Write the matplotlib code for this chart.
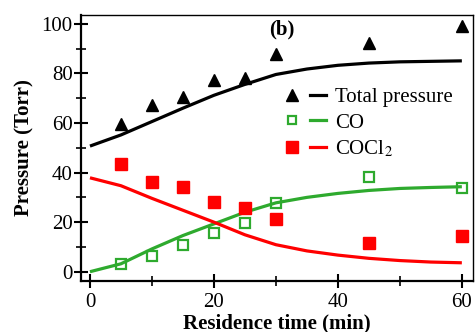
import numpy as np
import matplotlib.pyplot as plt
from matplotlib.lines import Line2D
from matplotlib.legend_handler import HandlerTuple

plt.rcParams['font.family'] = ['Liberation Serif', 'DejaVu Serif']
plt.rcParams['mathtext.fontset'] = 'stix'

# measured points
t_pts = [5, 10, 15, 20, 25, 30, 45, 60]
total_pts = [59.6, 67.3, 70.7, 77.4, 78.3, 87.8, 92.5, 99.2]
co_pts = [3.1, 6.5, 10.8, 15.8, 19.5, 27.9, 38.4, 33.9]
cocl2_pts = [43.5, 36.1, 34.3, 28.3, 25.8, 21.3, 11.5, 14.4]

# model curves
t_fit = [0, 5, 10, 15, 20, 25, 30, 35, 40, 45, 50, 55, 60]
total_fit = [50.7, 55.2, 60.6, 66.0, 71.2, 75.6, 79.6, 81.8, 83.3, 84.2, 84.7, 84.9, 85.1]
co_fit = [0.0, 3.2, 9.2, 14.6, 19.3, 24.0, 27.8, 30.0, 31.6, 32.8, 33.6, 34.0, 34.3]
cocl2_fit = [37.9, 34.7, 29.6, 24.8, 20.0, 14.9, 10.9, 8.4, 6.7, 5.4, 4.5, 3.9, 3.6]

green = '#2eaa2e'
red = '#ff0000'
fs = 15

fig = plt.figure(figsize=(4.75, 3.32), dpi=100)
ax = fig.add_axes([0.1705, 0.1536, 0.8253, 0.8012])

ax.plot(t_fit, total_fit, color='black', lw=2.3, solid_capstyle='butt')
ax.plot(t_fit, co_fit, color=green, lw=2.3, solid_capstyle='butt')
ax.plot(t_fit, cocl2_fit, color=red, lw=2.3, solid_capstyle='butt')

ax.plot(t_pts, total_pts, '^', color='black', ms=9, ls='none')
ax.plot(t_pts, co_pts, 's', mfc='none', mec=green, mew=1.6, ms=7, ls='none')
ax.plot(t_pts, cocl2_pts, 's', color=red, ms=8, ls='none')

ax.set_xlim(-1.45, 61.8)
ax.set_ylim(-3.75, 103.6)
ax.set_xticks([0, 20, 40, 60])
ax.set_xticks([10, 30, 50], minor=True)
ax.set_yticks([0, 20, 40, 60, 80, 100])
ax.set_yticks([10, 30, 50, 70, 90], minor=True)
ax.tick_params(which='major', direction='inout', length=10, width=1.5, labelsize=fs)
ax.tick_params(which='minor', direction='inout', length=7, width=1.2)
ax.tick_params(axis='x', which='major', pad=3.5)
ax.tick_params(axis='y', which='major', pad=1)

ax.spines['left'].set_linewidth(1.6)
ax.spines['bottom'].set_linewidth(1.6)
ax.spines['top'].set_linewidth(1.0)
ax.spines['right'].set_linewidth(1.0)

ax.set_xlabel('Residence time (min)', fontsize=fs, fontweight='bold', va='baseline')
ax.xaxis.set_label_coords(0.5, -0.1767)
ax.set_ylabel('Pressure (Torr)', fontsize=fs, fontweight='bold', labelpad=5)

ax.text(30.9, 97.6, '(b)', fontsize=fs, fontweight='bold', ha='center', va='center')

h_tot = (Line2D([], [], marker='^', color='black', ms=9, ls='none'),
         Line2D([], [], color='black', lw=2.3))
h_co = (Line2D([], [], marker='s', mfc='none', mec=green, mew=1.6, ms=6, ls='none'),
        Line2D([], [], color=green, lw=2.3))
h_cl = (Line2D([], [], marker='s', color=red, ms=8, ls='none'),
        Line2D([], [], color=red, lw=2.3))
ax.legend([h_tot, h_co, h_cl], ['Total pressure', 'CO', 'COCl$_2$'],
          handler_map={tuple: HandlerTuple(ndivide=None, pad=0.53)},
          loc='upper left', bbox_to_anchor=(0.518, 0.726), frameon=False,
          fontsize=fs, handlelength=2.0, handletextpad=0.45,
          labelspacing=0.27, borderaxespad=0, borderpad=0)

fig.savefig('out.png', dpi=100)
